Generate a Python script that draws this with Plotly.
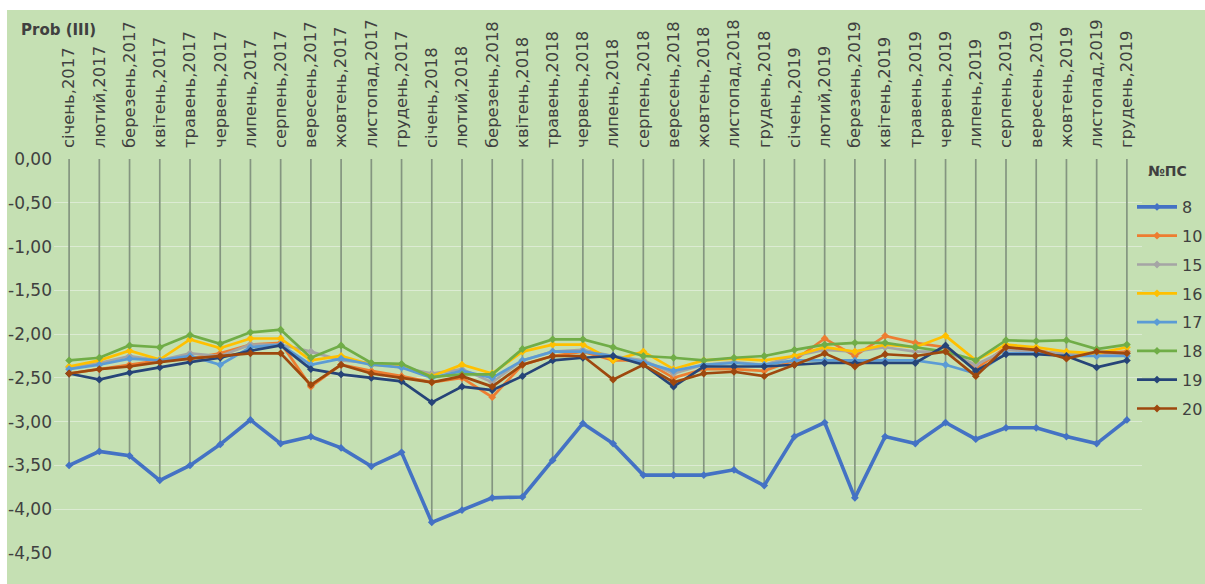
import plotly.graph_objects as go

# Months (Ukrainian) for 2017–2019
months = ["січень", "лютий", "березень", "квітень", "травень", "червень",
          "липень", "серпень", "вересень", "жовтень", "листопад", "грудень"]
years = [2017, 2018, 2019]
categories = [f"{m},{y}" for y in years for m in months]

# Prob (III) values per substation (№ПС)
s8 = [-3.50, -3.34, -3.39, -3.67, -3.50, -3.26, -2.98, -3.25, -3.17, -3.30, -3.51, -3.35,
      -4.15, -4.01, -3.87, -3.86, -3.44, -3.02, -3.25, -3.61, -3.61, -3.61, -3.55, -3.73,
      -3.17, -3.01, -3.87, -3.17, -3.25, -3.01, -3.20, -3.07, -3.07, -3.17, -3.25, -2.98]
s10 = [-2.45, -2.40, -2.35, -2.30, -2.28, -2.22, -2.12, -2.10, -2.60, -2.35, -2.42, -2.48,
       -2.55, -2.50, -2.72, -2.35, -2.25, -2.20, -2.30, -2.30, -2.50, -2.40, -2.40, -2.42,
       -2.30, -2.05, -2.25, -2.02, -2.10, -2.15, -2.40, -2.15, -2.18, -2.25, -2.22, -2.20]
s15 = [-2.38, -2.33, -2.25, -2.30, -2.22, -2.25, -2.12, -2.12, -2.20, -2.30, -2.33, -2.38,
       -2.45, -2.40, -2.55, -2.30, -2.20, -2.18, -2.25, -2.30, -2.45, -2.35, -2.32, -2.35,
       -2.25, -2.18, -2.20, -2.15, -2.20, -2.20, -2.35, -2.18, -2.20, -2.22, -2.25, -2.22]
s16 = [-2.37, -2.30, -2.19, -2.29, -2.06, -2.16, -2.05, -2.05, -2.30, -2.25, -2.35, -2.37,
       -2.48, -2.35, -2.45, -2.20, -2.12, -2.12, -2.30, -2.20, -2.40, -2.30, -2.28, -2.30,
       -2.25, -2.15, -2.20, -2.12, -2.15, -2.02, -2.30, -2.12, -2.15, -2.20, -2.22, -2.15]
s17 = [-2.40, -2.35, -2.28, -2.30, -2.25, -2.35, -2.15, -2.12, -2.35, -2.28, -2.35, -2.38,
       -2.50, -2.42, -2.50, -2.30, -2.20, -2.20, -2.25, -2.32, -2.42, -2.35, -2.33, -2.35,
       -2.30, -2.30, -2.30, -2.30, -2.30, -2.35, -2.45, -2.22, -2.22, -2.25, -2.25, -2.25]
s18 = [-2.30, -2.27, -2.13, -2.15, -2.01, -2.11, -1.98, -1.95, -2.27, -2.13, -2.33, -2.34,
       -2.49, -2.46, -2.46, -2.17, -2.06, -2.06, -2.15, -2.25, -2.27, -2.30, -2.27, -2.25,
       -2.18, -2.12, -2.10, -2.10, -2.15, -2.20, -2.30, -2.07, -2.08, -2.07, -2.17, -2.12]
s19 = [-2.45, -2.52, -2.44, -2.38, -2.32, -2.27, -2.19, -2.13, -2.40, -2.46, -2.50, -2.54,
       -2.78, -2.60, -2.64, -2.48, -2.30, -2.27, -2.25, -2.35, -2.60, -2.37, -2.37, -2.37,
       -2.35, -2.33, -2.33, -2.33, -2.33, -2.13, -2.42, -2.23, -2.23, -2.25, -2.38, -2.30]
s20 = [-2.45, -2.40, -2.37, -2.32, -2.28, -2.25, -2.22, -2.22, -2.58, -2.35, -2.45, -2.50,
       -2.55, -2.48, -2.60, -2.35, -2.25, -2.25, -2.52, -2.35, -2.55, -2.45, -2.43, -2.48,
       -2.35, -2.22, -2.37, -2.23, -2.25, -2.20, -2.48, -2.15, -2.18, -2.28, -2.20, -2.22]

series_names = ["8", "10", "15", "16", "17", "18", "19", "20"]
series_values = [s8, s10, s15, s16, s17, s18, s19, s20]
series_colors = ["#4472C4", "#ED7D31", "#A5A5A5", "#FFC000",
                 "#5B9BD5", "#70AD47", "#264478", "#9E480E"]

y_ticks = [0.0, -0.5, -1.0, -1.5, -2.0, -2.5, -3.0, -3.5, -4.0, -4.5]
y_ticktext = [f"{v:.2f}".replace(".", ",") for v in y_ticks]

W, H = 1205, 584
ML, MR, MT, MB = 54, 63, 159, 31
pw = W - ML - MR
ph = H - MT - MB
bg = "#C5E0B3"
txt = "#404040"
fnt = "DejaVu Sans"

def px_x(p):
    return (p - ML) / pw

def px_y(p):
    return (H - MB - p) / ph

fig = go.Figure()

# Drop lines: from the category axis (0) down to the lowest value in each month
lows = [min(vals) for vals in zip(*series_values)]
dx, dy = [], []
for c, lo in zip(categories, lows):
    dx += [c, c, None]
    dy += [0, lo, None]
fig.add_trace(go.Scatter(x=dx, y=dy, mode="lines", showlegend=False,
                         hoverinfo="skip",
                         line=dict(color="#849580", width=1.7)))

for name, vals, col in zip(series_names, series_values, series_colors):
    fig.add_trace(go.Scatter(
        x=categories, y=vals, name=name, legendgroup=name,
        mode="lines+markers",
        line=dict(color=col, width=3.6 if name == "8" else 2.7),
        marker=dict(symbol="diamond", size=6, color=col),
    ))

# Green chart area inside a thin white border
fig.add_shape(type="rect", xref="paper", yref="paper", layer="below",
              x0=px_x(7), x1=px_x(W + 5), y0=px_y(H + 5), y1=px_y(10),
              fillcolor=bg, line_width=0)

fig.add_annotation(text="<b>Prob (III)</b>", xref="paper", yref="paper",
                   x=px_x(19), y=px_y(30), xanchor="left", yanchor="middle",
                   showarrow=False, font=dict(family=fnt, size=15, color=txt))
fig.add_annotation(text="<b>№ПС</b>", xref="paper", yref="paper",
                   x=px_x(1146), y=px_y(171), xanchor="left", yanchor="middle",
                   showarrow=False, font=dict(family=fnt, size=14, color=txt))

fig.update_layout(
    width=W, height=H,
    margin=dict(l=ML, r=MR, t=MT, b=MB, pad=0, autoexpand=False),
    paper_bgcolor="white", plot_bgcolor=bg,
    font=dict(family=fnt, color=txt),
    showlegend=True,
    legend=dict(
        x=px_x(1132), y=px_y(190), xanchor="left", yanchor="top",
        bgcolor="rgba(0,0,0,0)", font=dict(family=fnt, size=16, color=txt),
        tracegroupgap=5, itemwidth=40,
    ),
    xaxis=dict(
        type="category", categoryorder="array", categoryarray=categories,
        side="top", tickangle=-90, tickfont=dict(family=fnt, size=16.4, color=txt),
        showgrid=False, zeroline=False, showline=False, ticks="",
        ticklabelstandoff=10, range=[-0.5, len(categories) - 0.5],
    ),
    yaxis=dict(
        range=[-4.5, 0], tickvals=y_ticks, ticktext=y_ticktext,
        tickfont=dict(family=fnt, size=17, color=txt), showgrid=True,
        gridcolor="#DCEBD3", gridwidth=1, zeroline=False, showline=False,
        ticks="", ticklabelstandoff=1,
    ),
)

fig.write_html("out.html", config={"displayModeBar": False})
